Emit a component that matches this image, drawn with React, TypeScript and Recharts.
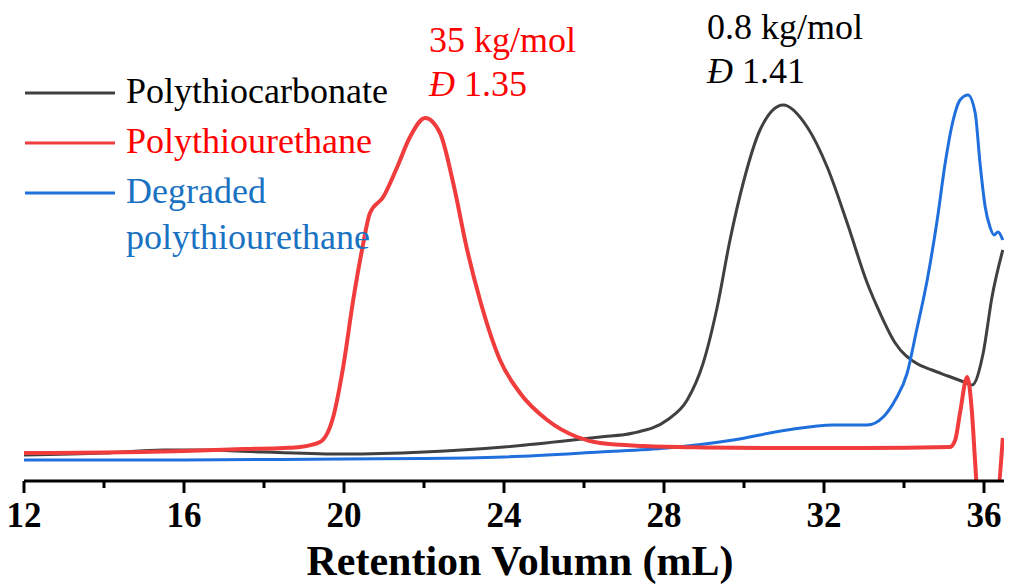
import React from 'react';
import { LineChart, Line, XAxis, YAxis } from 'recharts';

// [retention volume (mL), detector signal (a.u.)]
const polythiocarbonate: [number, number][] = [
  [12, 6.5], [14, 7], [15.5, 7.75], [16.5, 7.75], [18, 7.25], [20, 6.75], [22, 7.25],
  [24, 8.5], [25.5, 10], [26.4, 11], [27.23, 12], [28.08, 15.25], [28.58, 20.25],
  [28.98, 29.5], [29.33, 43.5], [29.65, 60.25], [29.98, 74.5], [30.4, 87.75],
  [30.98, 94], [31.58, 88.5], [32.08, 78.5], [32.58, 64.5], [33.08, 49.5], [33.4, 42],
  [33.78, 34.5], [34.3, 29.5], [34.7, 27.75], [35.1, 26.25], [35.5, 24.75], [35.7, 24],
  [35.98, 32], [36.2, 46], [36.47, 57.75],
];

const polythiourethane: [number, number][] = [
  [12, 7], [14, 7.1], [16, 7.5], [17.5, 8], [18.5, 8.25], [18.9, 8.5], [19.4, 9.75],
  [19.73, 16], [19.98, 28.5], [20.23, 45.25], [20.45, 57.75], [20.65, 67], [20.98, 71],
  [21.33, 78.5], [21.65, 86], [22.03, 90.75], [22.4, 87], [22.73, 74.5], [23.08, 57.75],
  [23.4, 45.25], [23.9, 30.25], [24.4, 22], [25.08, 15.25], [25.83, 11], [26.4, 9.5],
  [27.5, 8.75], [29, 8.4], [31, 8.25], [33, 8.25], [35.15, 8.5], [35.28, 10.25],
  [35.4, 17], [35.58, 26], [35.7, 17], [35.78, 4.5], [35.85, -5], [36.3, -5], [36.47, 10.75],
];

const degraded: [number, number][] = [
  [12, 5.25], [16, 5.25], [20, 5.5], [22, 5.6], [24, 6], [26.4, 7.25], [28.08, 8.25],
  [29.73, 10.25], [31.08, 12.75], [32.23, 14], [33.08, 14], [33.48, 16], [33.78, 20.25],
  [34.08, 27], [34.3, 37], [34.58, 50.25], [34.83, 65.25], [35.03, 79.5], [35.23, 90.25],
  [35.4, 95.25], [35.6, 96.5], [35.78, 92], [35.9, 79.5], [36.03, 68.5], [36.15, 63.5],
  [36.25, 61.5], [36.35, 62.25], [36.47, 60.25],
];

const xTicks = [12, 14, 16, 18, 20, 22, 24, 26, 28, 30, 32, 34, 36];
const majorTicks = [12, 16, 20, 24, 28, 32, 36];

const toRows = (pts: [number, number][]) => pts.map(([x, y]) => ({ x, y }));

const FONT = '"Liberation Serif", "Times New Roman", serif';
const AXIS_Y = 481;

const Tick = (props: any) => {
  const { x, payload } = props;
  const major = majorTicks.includes(payload.value);
  return (
    <g>
      <line x1={x} x2={x} y1={AXIS_Y} y2={AXIS_Y + (major ? 12 : 7)} stroke="#000" strokeWidth={3} />
      {major && (
        <text x={x} y={527} textAnchor="middle" fontFamily={FONT} fontWeight="bold" fontSize={35} fill="#000">
          {payload.value}
        </text>
      )}
    </g>
  );
};

const legendItems = [
  { color: '#404040', text: ['Polythiocarbonate'], textColor: '#000000', y: 93 },
  { color: '#f03c3c', text: ['Polythiourethane'], textColor: '#ff0000', y: 143 },
  { color: '#1f6fdc', text: ['Degraded', 'polythiourethane'], textColor: '#1a72c2', y: 193 },
];

export default function App() {
  return (
    <div style={{ position: 'absolute', left: 0, top: 0, width: 1011, height: 584, background: '#fff' }}>
      <LineChart width={1011} height={584} margin={{ top: 81, right: 7, left: 24, bottom: 0 }}>
        <XAxis
          type="number"
          dataKey="x"
          domain={[12, 36.5]}
          allowDataOverflow
          ticks={xTicks}
          interval={0}
          tick={<Tick />}
          tickLine={false}
          axisLine={{ stroke: '#000', strokeWidth: 3 }}
          height={103}
        />
        <YAxis type="number" dataKey="y" domain={[0, 100]} allowDataOverflow hide />
        <Line data={toRows(polythiocarbonate)} dataKey="y" type="monotone" stroke="#404040" strokeWidth={3} dot={false} isAnimationActive={false} />
        <Line data={toRows(degraded)} dataKey="y" type="monotone" stroke="#1f6fdc" strokeWidth={3} dot={false} isAnimationActive={false} />
        <Line data={toRows(polythiourethane)} dataKey="y" type="monotone" stroke="#f03c3c" strokeWidth={4} dot={false} isAnimationActive={false} />
      </LineChart>
      <svg width={1011} height={584} style={{ position: 'absolute', left: 0, top: 0, pointerEvents: 'none' }}>
        {legendItems.map((it) => (
          <g key={it.text[0]}>
            <line x1={25} x2={115} y1={it.y} y2={it.y} stroke={it.color} strokeWidth={3} />
            {it.text.map((t, i) => (
              <text key={t} x={126} y={it.y + 10 + i * 46} fontFamily={FONT} fontSize={36} fill={it.textColor}>
                {t}
              </text>
            ))}
          </g>
        ))}
        <text x={429} y={52} fontFamily={FONT} fontSize={36} fill="#ff0000">35 kg/mol</text>
        <text x={429} y={96} fontFamily={FONT} fontSize={36} fill="#ff0000">
          <tspan fontStyle="italic">Đ</tspan> 1.35
        </text>
        <text x={707} y={39} fontFamily={FONT} fontSize={36} fill="#000">0.8 kg/mol</text>
        <text x={707} y={83} fontFamily={FONT} fontSize={36} fill="#000">
          <tspan fontStyle="italic">Đ</tspan> 1.41
        </text>
        <text x={520} y={575} textAnchor="middle" fontFamily={FONT} fontWeight="bold" fontSize={42} fill="#000">
          Retention Volumn (mL)
        </text>
      </svg>
    </div>
  );
}
